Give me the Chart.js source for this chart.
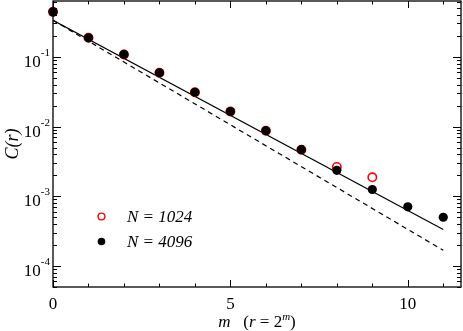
<!DOCTYPE html>
<html>
<head>
<meta charset="utf-8">
<script src="https://cdn.jsdelivr.net/npm/chart.js@4.4.1/dist/chart.umd.min.js"></script>
<style>
    html, body { margin: 0; padding: 0; background: #fff; }
    #wrap { position: relative; width: 463px; height: 331px; }
</style>
</head>
<body>
<div id="wrap"><canvas id="chart"></canvas></div>
<script>
// values, m = log2(r)
const mValues = [0, 1, 2, 3, 4, 5, 6, 7, 8, 9, 10, 11];
const corrN4096 = [0.44, 0.187, 0.108, 0.059, 0.031, 0.0164, 0.0087, 0.00465, 0.00235, 0.00125, 0.000706, 0.0005];
const corrN1024 = [0.44, 0.187, 0.108, 0.059, 0.031, 0.0164, 0.0087, 0.00465, 0.00263, 0.00187];
const fitM = [0, 11];
const fitSolid = [0.334, 0.000334];
const fitDashed = [0.334, 0.000168];
const xTickLabels = [0, 5, 10];
const yTickExponents = [-4, -3, -2, -1];
const legendLabels = ['N = 1024', 'N = 4096'];

const SERIF = '"Liberation Serif", "DejaVu Serif", serif';
const toPoints = (xs, ys) => ys.map((v, i) => ({ x: xs[i], y: v }));

// frame, inward ticks, labels and legend drawn by hand (mirrors the xmgrace look)
const framePlugin = {
    id: 'frame',
    afterDraw(chart) {
        const { ctx, chartArea: a, scales: { x, y } } = chart;
        ctx.save();
        ctx.strokeStyle = '#000';
        ctx.lineWidth = 1;

        ctx.beginPath();
        for (let m = 0; m <= 11; m++) {
            const px = Math.round(x.getPixelForValue(m)) + 0.5;
            const len = m % 5 === 0 ? 7 : 3.5;
            ctx.moveTo(px, a.bottom); ctx.lineTo(px, a.bottom - len);
            ctx.moveTo(px, a.top); ctx.lineTo(px, a.top + len);
        }
        for (let e = -5; e <= 0; e++) {
            for (let k = 1; k <= 9; k++) {
                const v = k * Math.pow(10, e);
                if (v < y.min || v > y.max) continue;
                const py = Math.round(y.getPixelForValue(v)) + 0.5;
                const len = k === 1 ? 8 : 4;
                ctx.moveTo(a.left, py); ctx.lineTo(a.left + len, py);
                ctx.moveTo(a.right, py); ctx.lineTo(a.right - len, py);
            }
        }
        ctx.stroke();

        ctx.lineWidth = 1.3;
        ctx.strokeRect(a.left, a.top, a.right - a.left, a.bottom - a.top);

        // x tick labels
        ctx.fillStyle = '#000';
        ctx.font = '17px ' + SERIF;
        ctx.textAlign = 'center';
        ctx.textBaseline = 'alphabetic';
        xTickLabels.forEach(v => ctx.fillText(String(v), x.getPixelForValue(v), a.bottom + 22));

        // y tick labels 10^n
        yTickExponents.forEach(e => {
            const py = y.getPixelForValue(Math.pow(10, e));
            const sup = String(e);
            ctx.font = '11px ' + SERIF;
            const supW = ctx.measureText(sup).width;
            ctx.textAlign = 'left';
            ctx.fillText(sup, a.left - 3 - supW, py - 1);
            ctx.font = '17px ' + SERIF;
            ctx.textAlign = 'right';
            ctx.fillText('10', a.left - 3 - supW, py + 10);
        });

        // y title
        ctx.save();
        ctx.translate(18, (a.top + a.bottom) / 2);
        ctx.rotate(-Math.PI / 2);
        ctx.font = 'italic 18px ' + SERIF;
        ctx.textAlign = 'center';
        ctx.fillText('C(r)', 0, 0);
        ctx.restore();

        // x title: m   (r = 2^m)
        const parts = [
            { t: 'm', f: 'italic 17px ', dy: 0 },
            { t: '   (', f: '17px ', dy: 0 },
            { t: 'r', f: 'italic 17px ', dy: 0 },
            { t: ' = 2', f: '17px ', dy: 0 },
            { t: 'm', f: 'italic 11px ', dy: -7 },
            { t: ')', f: '17px ', dy: 0 }
        ];
        let total = 0;
        parts.forEach(p => { ctx.font = p.f + SERIF; p.w = ctx.measureText(p.t).width; total += p.w; });
        let cx = (a.left + a.right) / 2 - total / 2;
        ctx.textAlign = 'left';
        parts.forEach(p => {
            ctx.font = p.f + SERIF;
            ctx.fillText(p.t, cx, 327 + p.dy);
            cx += p.w;
        });

        // legend
        const lx = 101.5;
        const rows = [216.5, 241.5];
        ctx.lineWidth = 1.4;
        ctx.strokeStyle = '#ff0000';
        ctx.beginPath(); ctx.arc(lx, rows[0], 3.4, 0, Math.PI * 2); ctx.stroke();
        ctx.fillStyle = '#000';
        ctx.beginPath(); ctx.arc(lx, rows[1], 3.8, 0, Math.PI * 2); ctx.fill();
        ctx.font = 'italic 17px ' + SERIF;
        ctx.textAlign = 'left';
        ctx.textBaseline = 'middle';
        legendLabels.forEach((lab, i) => ctx.fillText(lab, 127, rows[i] + 1));

        ctx.restore();
    }
};

new Chart(document.getElementById('chart'), {
    type: 'scatter',
    data: {
        datasets: [
            {
                label: 'N = 4096',
                data: toPoints(mValues, corrN4096),
                backgroundColor: '#000',
                borderWidth: 0,
                pointRadius: 4.6,
                clip: false
            },
            {
                label: 'N = 1024',
                data: toPoints(mValues, corrN1024),
                backgroundColor: 'rgba(0,0,0,0)',
                borderColor: '#ff0000',
                borderWidth: 1.6,
                pointRadius: 4.2,
                clip: false
            },
            {
                label: 'fit',
                data: toPoints(fitM, fitSolid),
                showLine: true,
                borderColor: '#000',
                borderWidth: 1.2,
                pointRadius: 0
            },
            {
                label: 'fit 1/r',
                data: toPoints(fitM, fitDashed),
                showLine: true,
                borderColor: '#000',
                borderWidth: 1.2,
                borderDash: [5, 4],
                pointRadius: 0
            }
        ]
    },
    options: {
        responsive: true,
        maintainAspectRatio: false,
        animation: false,
        layout: { autoPadding: false, padding: { top: 1, right: 2, left: 0, bottom: 0 } },
        plugins: { legend: { display: false }, tooltip: { enabled: false } },
        scales: {
            x: {
                type: 'linear', min: 0, max: 11.5,
                grid: { display: false }, border: { display: false },
                ticks: { display: false },
                afterFit: s => { s.height = 44; }
            },
            y: {
                type: 'logarithmic', min: 5e-5, max: 0.63,
                grid: { display: false }, border: { display: false },
                ticks: { display: false },
                afterFit: s => { s.width = 53; }
            }
        }
    },
    plugins: [framePlugin]
});
</script>
</body>
</html>
